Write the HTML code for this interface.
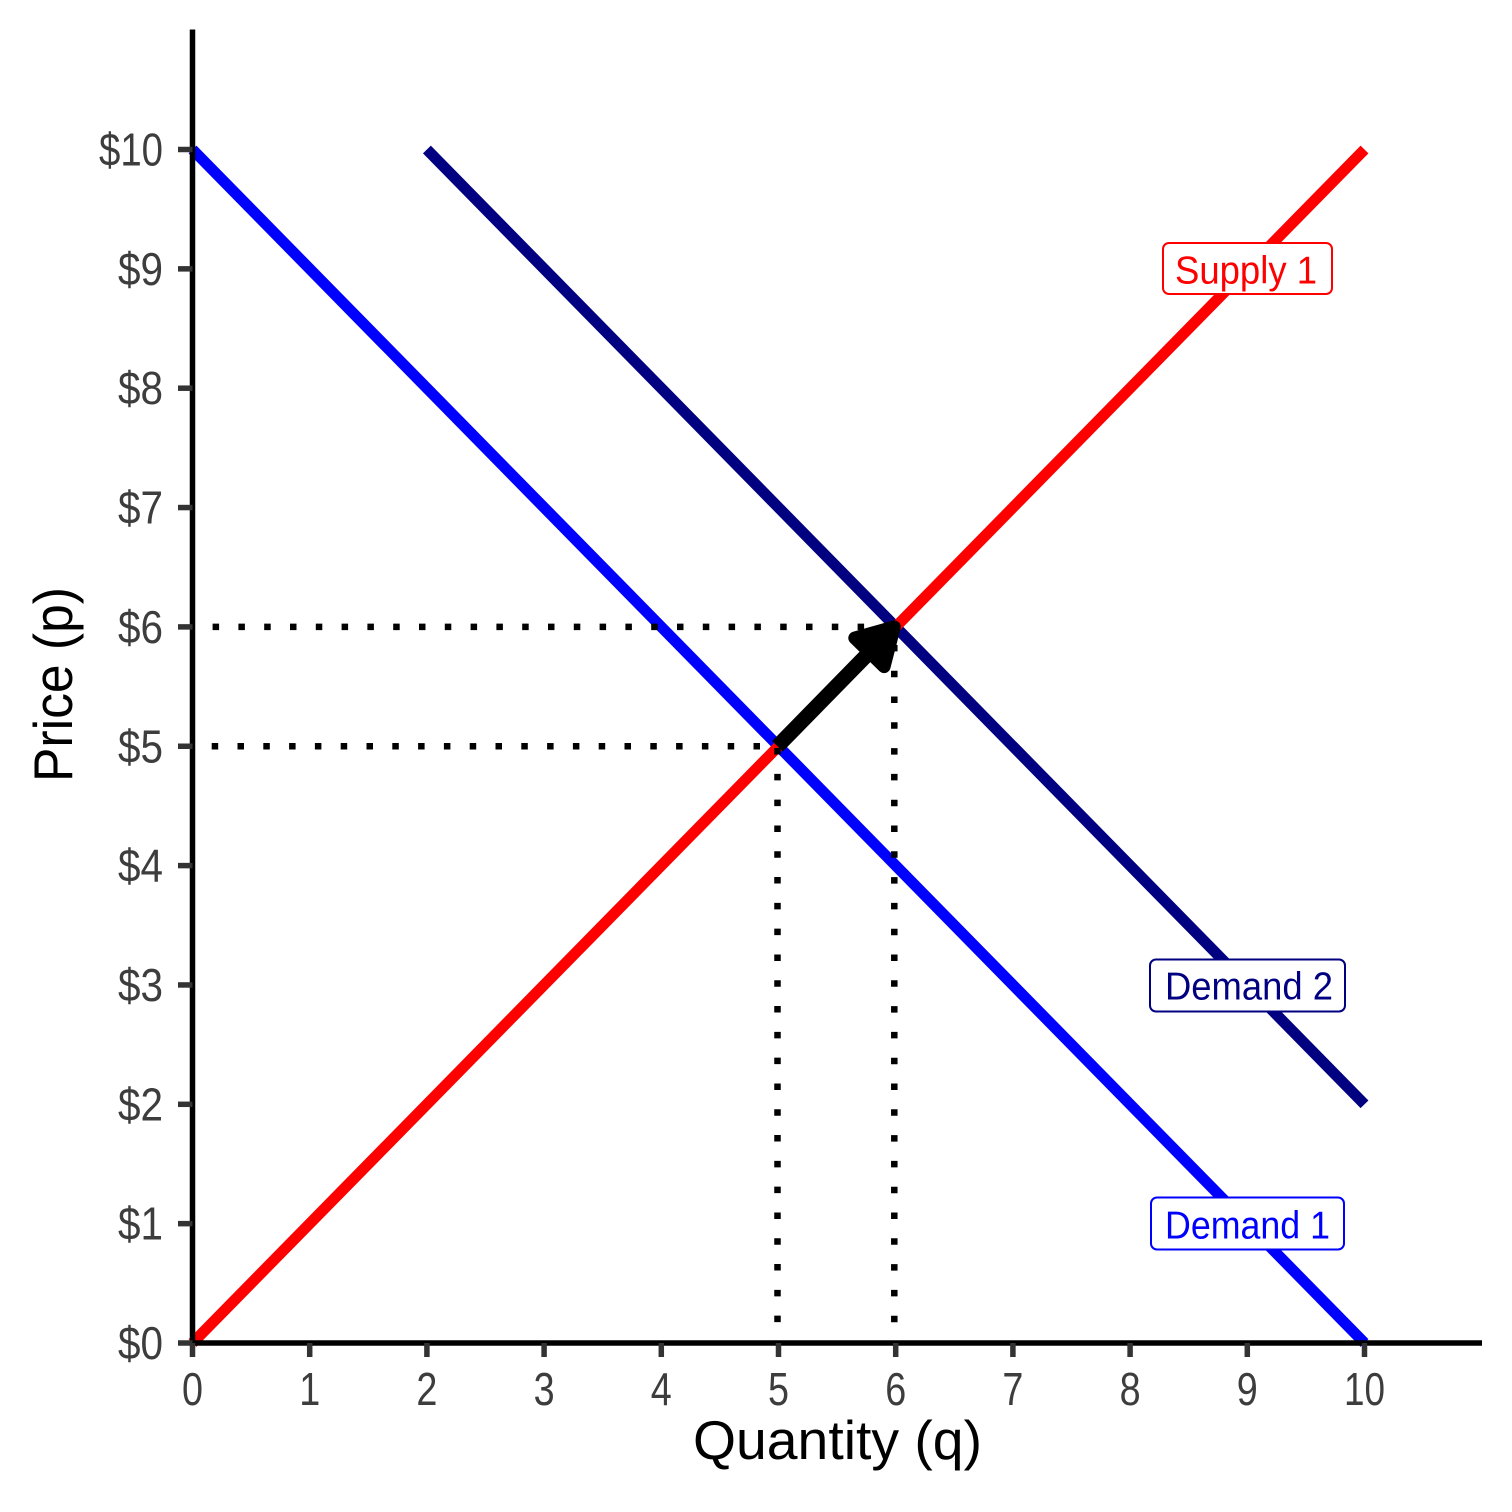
<!DOCTYPE html>
<html>
<head>
<meta charset="utf-8">
<style>
  html, body { margin: 0; padding: 0; background: #ffffff; }
  svg { display: block; }
  text { font-family: "Liberation Sans", "DejaVu Sans", sans-serif; }
</style>
</head>
<body>
<svg width="1512" height="1512" viewBox="0 0 1512 1512" xmlns="http://www.w3.org/2000/svg">
  <rect x="0" y="0" width="1512" height="1512" fill="#ffffff"/>

  <!-- Demand curves -->
  <line x1="192.5" y1="149.5" x2="1364.5" y2="1343" stroke="#0000FF" stroke-width="11" stroke-linecap="butt"/>
  <line x1="426.9" y1="149.5" x2="1364.5" y2="1104.3" stroke="#000080" stroke-width="11" stroke-linecap="butt"/>
  <!-- Supply -->
  <line x1="192.5" y1="1343" x2="1364.5" y2="149.5" stroke="#FF0000" stroke-width="11" stroke-linecap="butt"/>

  <!-- Dotted guide lines -->
  <g stroke="#000000" stroke-width="6.5" fill="none" stroke-linecap="butt">
    <line x1="192.5" y1="626.9" x2="894.3" y2="626.9" stroke-dasharray="6.5 19.3" stroke-dashoffset="5.7"/>
    <line x1="192.5" y1="746.25" x2="777.5" y2="746.25" stroke-dasharray="6.5 19.3" stroke-dashoffset="6.6"/>
    <line x1="894.3" y1="626.9" x2="894.3" y2="1343" stroke-dasharray="6.5 19.3" stroke-dashoffset="7.8"/>
    <line x1="777.5" y1="746.25" x2="777.5" y2="1343" stroke-dasharray="6.5 19.3" stroke-dashoffset="24.0"/>
  </g>

  <!-- Arrow -->
  <line x1="777.5" y1="746.25" x2="869.5" y2="652.3" stroke="#000000" stroke-width="15" stroke-linecap="butt"/>
  <polygon points="894.3,626.9 854.8,638.0 884.1,666.6" fill="#000000" stroke="#000000" stroke-width="13" stroke-linejoin="round"/>

  <!-- Axes -->
  <line x1="192.5" y1="29.5" x2="192.5" y2="1345.75" stroke="#000000" stroke-width="5.5"/>
  <line x1="189.75" y1="1343" x2="1482" y2="1343" stroke="#000000" stroke-width="5.5"/>

  <!-- Y ticks -->
  <g stroke="#333333" stroke-width="5.5">
    <line x1="178" y1="1343" x2="192.5" y2="1343"/>
    <line x1="178" y1="1223.65" x2="192.5" y2="1223.65"/>
    <line x1="178" y1="1104.3" x2="192.5" y2="1104.3"/>
    <line x1="178" y1="984.95" x2="192.5" y2="984.95"/>
    <line x1="178" y1="865.6" x2="192.5" y2="865.6"/>
    <line x1="178" y1="746.25" x2="192.5" y2="746.25"/>
    <line x1="178" y1="626.9" x2="192.5" y2="626.9"/>
    <line x1="178" y1="507.55" x2="192.5" y2="507.55"/>
    <line x1="178" y1="388.2" x2="192.5" y2="388.2"/>
    <line x1="178" y1="268.85" x2="192.5" y2="268.85"/>
    <line x1="178" y1="149.5" x2="192.5" y2="149.5"/>
  </g>
  <!-- X ticks -->
  <g stroke="#333333" stroke-width="5.5">
    <line x1="192.5" y1="1343" x2="192.5" y2="1357"/>
    <line x1="309.7" y1="1343" x2="309.7" y2="1357"/>
    <line x1="426.9" y1="1343" x2="426.9" y2="1357"/>
    <line x1="544.1" y1="1343" x2="544.1" y2="1357"/>
    <line x1="661.3" y1="1343" x2="661.3" y2="1357"/>
    <line x1="778.5" y1="1343" x2="778.5" y2="1357"/>
    <line x1="895.7" y1="1343" x2="895.7" y2="1357"/>
    <line x1="1012.9" y1="1343" x2="1012.9" y2="1357"/>
    <line x1="1130.1" y1="1343" x2="1130.1" y2="1357"/>
    <line x1="1247.3" y1="1343" x2="1247.3" y2="1357"/>
    <line x1="1364.5" y1="1343" x2="1364.5" y2="1357"/>
  </g>

  <!-- Y tick labels -->
  <g fill="#3d3d3d" font-size="46" text-anchor="end">
    <text x="163" y="1359" textLength="45" lengthAdjust="spacingAndGlyphs">$0</text>
    <text x="163" y="1239.65" textLength="45" lengthAdjust="spacingAndGlyphs">$1</text>
    <text x="163" y="1120.3" textLength="45" lengthAdjust="spacingAndGlyphs">$2</text>
    <text x="163" y="1000.95" textLength="45" lengthAdjust="spacingAndGlyphs">$3</text>
    <text x="163" y="881.6" textLength="45" lengthAdjust="spacingAndGlyphs">$4</text>
    <text x="163" y="762.25" textLength="45" lengthAdjust="spacingAndGlyphs">$5</text>
    <text x="163" y="642.9" textLength="45" lengthAdjust="spacingAndGlyphs">$6</text>
    <text x="163" y="523.55" textLength="45" lengthAdjust="spacingAndGlyphs">$7</text>
    <text x="163" y="404.2" textLength="45" lengthAdjust="spacingAndGlyphs">$8</text>
    <text x="163" y="284.85" textLength="45" lengthAdjust="spacingAndGlyphs">$9</text>
    <text x="163" y="165.5" textLength="64" lengthAdjust="spacingAndGlyphs">$10</text>
  </g>

  <!-- X tick labels -->
  <g fill="#3d3d3d" font-size="46" text-anchor="middle">
    <text x="192.5" y="1405" textLength="21" lengthAdjust="spacingAndGlyphs">0</text>
    <text x="309.7" y="1405" textLength="21" lengthAdjust="spacingAndGlyphs">1</text>
    <text x="426.9" y="1405" textLength="21" lengthAdjust="spacingAndGlyphs">2</text>
    <text x="544.1" y="1405" textLength="21" lengthAdjust="spacingAndGlyphs">3</text>
    <text x="661.3" y="1405" textLength="21" lengthAdjust="spacingAndGlyphs">4</text>
    <text x="778.5" y="1405" textLength="21" lengthAdjust="spacingAndGlyphs">5</text>
    <text x="895.7" y="1405" textLength="21" lengthAdjust="spacingAndGlyphs">6</text>
    <text x="1012.9" y="1405" textLength="21" lengthAdjust="spacingAndGlyphs">7</text>
    <text x="1130.1" y="1405" textLength="21" lengthAdjust="spacingAndGlyphs">8</text>
    <text x="1247.3" y="1405" textLength="21" lengthAdjust="spacingAndGlyphs">9</text>
    <text x="1364.5" y="1405" textLength="41" lengthAdjust="spacingAndGlyphs">10</text>
  </g>

  <!-- Axis titles -->
  <text x="837.5" y="1459" font-size="55" fill="#000000" text-anchor="middle" textLength="289" lengthAdjust="spacingAndGlyphs">Quantity (q)</text>
  <text transform="translate(72,684.5) rotate(-90)" x="0" y="0" font-size="55" fill="#000000" text-anchor="middle" textLength="195" lengthAdjust="spacingAndGlyphs">Price (p)</text>

  <!-- Labels -->
  <rect x="1163" y="243" width="169" height="51" rx="6" ry="6" fill="#ffffff" stroke="#FF0000" stroke-width="2"/>
  <text x="1175" y="283.5" font-size="39" fill="#FF0000" textLength="142" lengthAdjust="spacingAndGlyphs">Supply 1</text>

  <rect x="1150" y="959.5" width="195" height="52" rx="6" ry="6" fill="#ffffff" stroke="#000080" stroke-width="2"/>
  <text x="1165" y="999.5" font-size="39" fill="#000080" textLength="168" lengthAdjust="spacingAndGlyphs">Demand 2</text>

  <rect x="1151" y="1197.5" width="193" height="52" rx="6" ry="6" fill="#ffffff" stroke="#0000FF" stroke-width="2"/>
  <text x="1165" y="1238.5" font-size="39" fill="#0000FF" textLength="165" lengthAdjust="spacingAndGlyphs">Demand 1</text>
</svg>
</body>
</html>
